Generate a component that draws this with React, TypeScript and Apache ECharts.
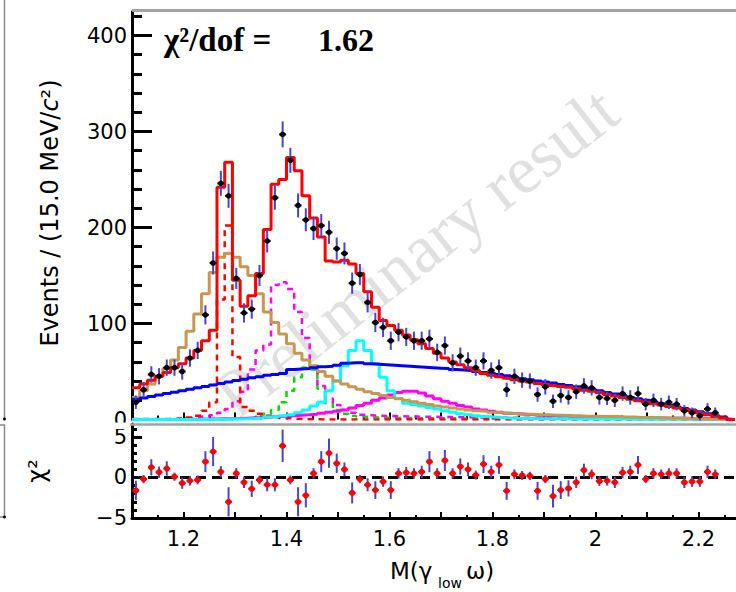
import { useEffect, useRef } from "react";
import * as echarts from "echarts";

// ---------------- data ----------------
const BIN_START = 1.1;
const BIN_WIDTH = 0.015; // 15.0 MeV/c^2
const X_MIN = 1.1;
const X_MAX = 2.2728;

const xMajorTicks = [1.1, 1.2, 1.3, 1.4, 1.5, 1.6, 1.7, 1.8, 1.9, 2.0, 2.1, 2.2];
const xMinorTicks = [1.15, 1.25, 1.35, 1.45, 1.55, 1.65, 1.75, 1.85, 1.95, 2.05, 2.15, 2.25];
const xTickLabels = [1.2, 1.4, 1.6, 1.8, 2.0, 2.2];
const yTopTicks = [0, 100, 200, 300, 400];
const yTopMinorTicks = [20, 40, 60, 80, 120, 140, 160, 180, 220, 240, 260, 280, 320, 340, 360, 380, 420];
const yBotTicks = [-5, 0, 5];
const yBotMinorTicks = [-4, -3, -2, -1, 1, 2, 3, 4, 6];

const dataCounts = [
  18, 31, 47, 45, 54, 54, 50, 64, 72, 109,
  163, 246, 233, 147, 111, 115, 150, 186, 231, 297,
  270, 223, 208, 199, 202, 195, 178, 173, 142, 151,
  122, 101, 96, 82, 91, 86, 82, 82, 84, 70,
  77, 59, 66, 61, 54, 61, 51, 54, 31, 45,
  41, 40, 26, 34, 19, 25, 23, 29, 35, 33,
  23, 22, 20, 27, 23, 27, 16, 20, 16, 18,
  16, 9, 7, 4, 11, 7,
];
const dataErrors = [
  7, 8, 8.5, 8.5, 8.5, 8.5, 8.5, 9, 9, 10,
  12, 13, 12.5, 11, 10, 10, 11, 12, 12.5, 13.5,
  13, 12.5, 12, 12, 12, 12, 11.5, 11.5, 11, 11,
  10.5, 10, 10, 9.5, 9.5, 9.5, 9.5, 9.5, 9.5, 9,
  9.5, 9, 9, 9, 8.5, 9, 8.5, 8.5, 7.5, 8,
  8, 8, 7.5, 8, 7, 7.5, 7.5, 7.5, 8, 8,
  7.5, 7, 7, 7.5, 7.5, 7.5, 6.5, 7, 6.5, 7,
  6.5, 6, 5.5, 5, 6, 5.5,
];
const totalFit = [
  33, 37, 41, 45, 49, 54, 58, 64, 72, 82,
  93, 242, 268, 145, 118, 129, 152, 198, 245, 250,
  273, 259, 233, 210, 190, 165, 164, 166, 162, 152,
  133, 117, 103, 98, 93, 88, 83, 79, 74, 69,
  64, 60, 57, 54, 51, 48, 46, 44.5, 43, 41.5,
  40, 39, 37.5, 36.5, 35.5, 34.5, 33.5, 32, 30.5, 29.5,
  28, 26, 24.5, 23, 21, 19.5, 18, 16.5, 15, 13.5,
  12, 10.5, 9, 7, 5, 3, 1.5, 0,
];
const tanComp = [
  23, 30, 37, 45, 53, 62, 75, 92, 110, 131,
  153, 169, 173, 169, 159, 150, 131, 112, 101, 89,
  79, 69, 62, 56, 50, 45, 40, 37, 34, 31.5,
  29, 27, 25, 23, 21.5, 20, 18.5, 17, 15.5, 14,
  13, 12, 11, 10, 9, 8.5, 7.5, 7, 6.5, 6,
  5.5, 5.5, 5, 5, 4.5, 4.5, 4, 4, 3.5, 3.5,
  3, 3, 3, 2.5, 2.5, 2, 2, 2, 1.5, 1.5,
  1.5, 1, 1, 0.5, 0.5, 0.5, 0.3, 0,
];
const blueComp = [
  21, 22.5, 24, 25.5, 27, 28.5, 30, 31.5, 33, 34.5,
  36, 37.5, 39, 40.5, 42, 43.5, 44.5, 46, 47, 48,
  52, 52.5, 53, 54, 55, 55.5, 56.5, 58.5, 59, 59,
  58, 57.5, 57, 56.5, 56, 55.5, 55, 54.5, 54, 53.5,
  53, 52, 51.5, 51, 50, 49, 48, 47, 45.5, 44,
  42.5, 41.5, 40, 39, 38, 36.5, 35.5, 34, 33, 31.5,
  30, 28, 26.5, 25, 23, 21.5, 20, 18.5, 16.5, 15,
  13, 11.5, 10, 8, 6, 4, 2.5, 0,
];
const cyanComp = [
  0, 0, 0, 0, 0, 0, 0, 0, 0, 0,
  0.2, 0.3, 0.4, 0.5, 0.7, 1, 1.5, 2.5, 3, 4,
  5, 7, 10, 14, 18, 30, 40, 56, 72, 82,
  72, 58, 44, 30, 22, 17, 15.5, 14, 12.5, 11,
  9, 7.5, 6, 5, 4, 3, 2.5, 2, 1.6, 1.3,
  1.1, 1, 0.9, 0.8, 0.7, 0.7, 0.6, 0.6, 0.5, 0.5,
  0.5, 0.4, 0.4, 0.4, 0.3, 0.3, 0.3, 0.3, 0.2, 0.2,
  0.2, 0.2, 0.2, 0.1, 0.1, 0.1, 0.1, 0,
];
const magentaComp = [
  0, 0, 0, 0, 0, 0, 0.1, 0.2, 0.3, 0.4,
  0.5, 0.7, 0.9, 1.1, 1.4, 1.7, 2, 2.5, 3, 3.5,
  4, 4.5, 5, 5.5, 6.5, 7.5, 8.5, 10, 12, 14.5,
  17, 20, 22.5, 25.5, 28, 29.5, 29.5, 27.5, 24.5, 21.5,
  19, 17, 14.5, 13, 11, 10, 8.5, 7.5, 6.5, 6,
  5.5, 5, 4.5, 4.2, 4, 3.7, 3.5, 3.2, 3, 2.8,
  2.6, 2.4, 2.2, 2, 1.9, 1.8, 1.7, 1.6, 1.5, 1.4,
  1.3, 1.2, 1.1, 1, 0.9, 0.8, 0.7, 0,
];
const redDashed = [
  0, 0, 0, 0, 0, 0.5, 1, 2, 4, 9,
  18, 125, 202, 65, 13, 9, 6, 4, 2.5, 1.5,
  1, 0.5, 0.3, 0.2, 0.1, 0, 0, 0, 0, 0,
  0, 0, 0, 0, 0, 0, 0, 0, 0, 0,
  0, 0, 0, 0, 0, 0, 0, 0, 0, 0,
  0, 0, 0, 0, 0, 0, 0, 0, 0, 0,
  0, 0, 0, 0, 0, 0, 0, 0, 0, 0,
  0, 0, 0, 0, 0, 0, 0, 0,
];
const magentaDashed = [
  0.5, 0.5, 0.5, 0.5, 0.7, 1, 1.3, 1.7, 2.2, 3,
  4.5, 7, 11, 19, 29, 52, 72, 78, 140, 143,
  136, 112, 85, 55, 35, 22, 15, 10, 7, 5,
  4.5, 4, 3.7, 3.5, 3.3, 3.1, 3, 2.9, 2.8, 2.7,
  2.6, 2.5, 2.4, 2.3, 2.2, 2.1, 2, 2, 1.9, 1.9,
  1.8, 1.8, 1.7, 1.7, 1.6, 1.6, 1.5, 1.5, 1.4, 1.4,
  1.3, 1.3, 1.2, 1.2, 1.1, 1.1, 1, 1, 0.9, 0.9,
  0.8, 0.8, 0.7, 0.7, 0.6, 0.6, 0.5, 0,
];
const greenDashed = [
  0.3, 0.3, 0.3, 0.3, 0.3, 0.3, 0.3, 0.3, 0.4, 0.4,
  0.5, 0.5, 0.6, 0.7, 0.8, 1, 3, 6, 10, 18,
  30, 44, 54, 52, 32, 17, 10, 6, 4, 3,
  2.5, 2, 1.8, 1.6, 1.5, 1.5, 1.4, 1.4, 1.3, 1.3,
  1.2, 1.2, 1.1, 1.1, 1, 1, 1, 0.9, 0.9, 0.9,
  0.8, 0.8, 0.8, 0.7, 0.7, 0.7, 0.6, 0.6, 0.6, 0.5,
  0.5, 0.5, 0.5, 0.4, 0.4, 0.4, 0.4, 0.3, 0.3, 0.3,
  0.3, 0.3, 0.2, 0.2, 0.2, 0.2, 0.2, 0,
];
const chiValues = [
  -1.6, -0.2, 1.25, 0.65, 1.1, 0.1, -0.7, -0.4, -0.3, 1.95,
  3.2, 0.7, -3.0, 0.5, -0.6, -1.4, -0.3, -0.9, -0.9, 3.9,
  -0.3, -3.0, -2.2, 0.5, 1.95, 3.0, 1.75, 1.0, -1.9, -0.2,
  -0.9, -1.55, -0.5, -1.55, 0.5, 0.6, 0.5, 0.7, 1.95, 0.5,
  2.1, 0.5, 1.35, 1.0, 0.3, 1.65, 0.7, 1.55, -1.65, 0.4,
  0.25, 0.2, -1.65, -0.2, -2.3, -1.55, -1.35, -0.6, 0.9, 0.4,
  -0.45, -0.4, -0.6, 0.6, 0.7, 1.55, -0.2, 0.5, 0.4, 0.5,
  0.5, -0.6, -0.5, -0.5, 0.7, 0.4,
];
const chiErrors = [
  1.2, 0.5, 1.0, 0.7, 0.9, 0.5, 0.7, 0.6, 0.55, 1.3,
  1.8, 0.7, 1.8, 0.65, 0.7, 1.0, 0.55, 0.8, 0.8, 2.0,
  0.55, 1.8, 1.5, 0.65, 1.3, 1.8, 1.2, 0.85, 1.3, 0.5,
  0.8, 1.1, 0.65, 1.1, 0.65, 0.7, 0.65, 0.75, 1.3, 0.65,
  1.3, 0.65, 1.0, 0.85, 0.55, 1.1, 0.75, 1.1, 1.1, 0.6,
  0.55, 0.5, 1.1, 0.5, 1.4, 1.1, 1.0, 0.7, 0.8, 0.6,
  0.6, 0.6, 0.7, 0.7, 0.75, 1.1, 0.5, 0.65, 0.6, 0.65,
  0.65, 0.7, 0.65, 0.65, 0.75, 0.6,
];

// ---------------- helpers ----------------
const SANS = "DejaVu Sans";
const SERIF = "Liberation Serif";

function histData(vals: number[]) {
  const d = vals.map((v, i) => [BIN_START + i * BIN_WIDTH, v]);
  d.push([BIN_START + vals.length * BIN_WIDTH, vals[vals.length - 1]]);
  return d;
}

function pointData(vals: number[], errs: number[]) {
  return vals.map((v, i) => [BIN_START + (i + 0.5) * BIN_WIDTH, v, errs[i]]);
}

function stepSeries(vals: number[], color: string, width: number, dashed: boolean) {
  return {
    type: "line",
    xAxisIndex: 0,
    yAxisIndex: 0,
    data: histData(vals),
    step: "end",
    symbol: "none",
    silent: true,
    lineStyle: { color, width, type: dashed ? [6, 5] : "solid" },
  };
}

function errRender(barColor: string, markColor: string, r: number) {
  return (_params: any, api: any) => {
    const x = api.value(0);
    const y = api.value(1);
    const e = api.value(2);
    const c = api.coord([x, y]);
    const hi = api.coord([x, y + e]);
    const lo = api.coord([x, y - e]);
    return {
      type: "group",
      children: [
        { type: "line", shape: { x1: c[0], y1: hi[1], x2: c[0], y2: lo[1] }, style: { stroke: barColor, lineWidth: 2 } },
        { type: "line", shape: { x1: c[0] - 3.5, y1: c[1], x2: c[0] + 3.5, y2: c[1] }, style: { stroke: markColor, lineWidth: 2 } },
        { type: "circle", shape: { cx: c[0], cy: c[1], r }, style: { fill: markColor } },
      ],
    };
  };
}

const tickStyle = { color: "#000", width: 2 };

function xAxisDef(grid: number, ticks: number[], len: number, main: boolean, labels: boolean, line: boolean) {
  return {
    type: "value",
    gridIndex: grid,
    position: "bottom",
    min: X_MIN,
    max: X_MAX,
    interval: main ? 0.1 : 0.05,
    axisLine: { show: line, onZero: false, lineStyle: { color: "#000", width: 3 } },
    axisTick: { show: true, inside: true, length: len, customValues: ticks, lineStyle: tickStyle },
    axisLabel: labels
      ? {
          show: true,
          customValues: xTickLabels,
          margin: 12,
          lineHeight: 17,
          color: "#000",
          fontFamily: SANS,
          fontSize: 21,
          formatter: (v: number) => String(Math.round(v * 10) / 10),
        }
      : { show: false },
    splitLine: { show: false },
  };
}

function yAxisDef(grid: number, min: number, max: number, interval: number, ticks: number[], len: number, labels: number[] | null, line: boolean) {
  return {
    type: "value",
    gridIndex: grid,
    position: "left",
    min,
    max,
    interval,
    axisLine: { show: line, onZero: false, lineStyle: { color: "#000", width: 3 } },
    axisTick: { show: true, inside: true, length: len, customValues: ticks, lineStyle: { color: "#000", width: 3 } },
    axisLabel: labels
      ? {
          show: true,
          customValues: labels,
          margin: 5,
          lineHeight: 15,
          color: "#000",
          fontFamily: SANS,
          fontSize: 21,
          formatter: (v: number) => (v < 0 ? "\u2212" + Math.abs(v) : String(v)),
        }
      : { show: false },
    splitLine: { show: false },
  };
}

// ---------------- component ----------------
export default function App() {
  const ref = useRef<HTMLDivElement>(null);

  useEffect(() => {
    document.body.style.margin = "0";
    const chart = echarts.init(ref.current as HTMLDivElement, undefined, { renderer: "svg" });

    const option: any = {
      animation: false,
      backgroundColor: "#ffffff",
      grid: [
        { left: 132, top: 11.5, width: 604, height: 408, outerBoundsMode: "none" },
        { left: 132, top: 424, width: 604, height: 94, outerBoundsMode: "none" },
      ],
      xAxis: [
        xAxisDef(0, xMajorTicks, 7, true, false, false),
        xAxisDef(0, xMinorTicks, 4, false, false, false),
        xAxisDef(1, xMajorTicks, 6, true, true, true),
        xAxisDef(1, xMinorTicks, 3, false, false, false),
      ],
      yAxis: [
        yAxisDef(0, 0, 425, 100, yTopTicks, 20, yTopTicks, true),
        yAxisDef(0, 0, 425, 20, yTopMinorTicks, 10, null, false),
        yAxisDef(1, -5, 6.6, 5, yBotTicks, 10, yBotTicks, true),
        yAxisDef(1, -5, 6.6, 1, yBotMinorTicks, 5, null, false),
      ],
      series: [
        stepSeries(greenDashed, "#00e000", 2.5, true),
        stepSeries(magentaDashed, "#ff00ff", 2.5, true),
        stepSeries(redDashed, "#ff0000", 2.5, true),
        stepSeries(magentaComp, "#ff00ff", 3, false),
        stepSeries(cyanComp, "#00ffff", 3, false),
        stepSeries(tanComp, "#c8964f", 3, false),
        stepSeries(blueComp, "#0000ff", 3, false),
        stepSeries(totalFit, "#ff0000", 3, false),
        {
          type: "custom",
          xAxisIndex: 0,
          yAxisIndex: 0,
          data: pointData(dataCounts, dataErrors),
          encode: { x: 0, y: 1 },
          renderItem: errRender("#4646d2", "#000000", 2.8),
          silent: true,
          z: 5,
        },
        {
          type: "line",
          xAxisIndex: 2,
          yAxisIndex: 2,
          data: [
            [X_MIN, 0],
            [X_MAX, 0],
          ],
          symbol: "none",
          silent: true,
          lineStyle: { color: "#000", width: 3, type: [10, 6] },
        },
        {
          type: "custom",
          xAxisIndex: 2,
          yAxisIndex: 2,
          data: pointData(chiValues, chiErrors),
          encode: { x: 0, y: 1 },
          renderItem: errRender("#4646d2", "#ff0000", 3),
          silent: true,
          z: 5,
        },
      ],
      graphic: [
        {
          type: "text",
          x: 416,
          y: 252,
          rotation: (38 * Math.PI) / 180,
          z: -1,
          silent: true,
          style: {
            text: "Preliminary result",
            fontFamily: SERIF,
            fontSize: 68,
            fill: "#e0e0e0",
            align: "center",
            verticalAlign: "middle",
          },
        },
        // frames
        { type: "line", silent: true, z: 20, shape: { x1: 132, y1: 10.5, x2: 736, y2: 10.5 }, style: { stroke: "#a3a3a3", lineWidth: 3 } },
        { type: "rect", silent: true, z: 20, shape: { x: 60, y: 422.5, width: 71, height: 6.5 }, style: { fill: "#ffffff" } },
        { type: "line", silent: true, z: 21, shape: { x1: 130, y1: 424.5, x2: 736, y2: 424.5 }, style: { stroke: "#a3a3a3", lineWidth: 2.5 } },
        // cropped neighbour frames on the far left
        { type: "line", silent: true, shape: { x1: 4.5, y1: 0, x2: 4.5, y2: 419 }, style: { stroke: "#888", lineWidth: 1.5 } },
        { type: "circle", silent: true, shape: { cx: 4.5, cy: 419, r: 1.5 }, style: { fill: "#000" } },
        { type: "polyline", silent: true, shape: { points: [[0, 425], [4.5, 425], [4.5, 517], [0, 517]] }, style: { stroke: "#888", lineWidth: 1.5, fill: null } },
        { type: "circle", silent: true, shape: { cx: 4.5, cy: 517, r: 1.5 }, style: { fill: "#000" } },
        // titles
        {
          type: "text",
          x: 164,
          y: 40,
          silent: true,
          style: { text: "\u03c7\u00b2/dof =", fontFamily: SERIF, fontWeight: "bold", fontSize: 33, fill: "#000", align: "left", verticalAlign: "middle" },
        },
        {
          type: "text",
          x: 318,
          y: 40,
          silent: true,
          style: { text: "1.62", fontFamily: SERIF, fontWeight: "bold", fontSize: 32, fill: "#000", align: "left", verticalAlign: "middle" },
        },
        {
          type: "text",
          x: 50,
          y: 213,
          rotation: Math.PI / 2,
          silent: true,
          style: {
            text: "{a|Events / (15.0 MeV/}{i|c}{a|\u00b2)}",
            rich: {
              a: { fontFamily: SANS, fontSize: 24, fill: "#000" },
              i: { fontFamily: SANS, fontSize: 24, fontStyle: "italic", fill: "#000" },
            },
            align: "center",
            verticalAlign: "middle",
          },
        },
        {
          type: "text",
          x: 37,
          y: 471,
          rotation: Math.PI / 2,
          silent: true,
          style: { text: "\u03c7\u00b2", fontFamily: SANS, fontSize: 24, fill: "#000", align: "center", verticalAlign: "middle" },
        },
        {
          type: "text",
          x: 390,
          y: 571,
          silent: true,
          style: { text: "M(\u03b3", fontFamily: SANS, fontSize: 23, fill: "#000", align: "left", verticalAlign: "middle" },
        },
        {
          type: "text",
          x: 438,
          y: 583,
          silent: true,
          style: { text: "low", fontFamily: SANS, fontSize: 14, fill: "#000", align: "left", verticalAlign: "middle" },
        },
        {
          type: "text",
          x: 466,
          y: 571,
          silent: true,
          style: { text: "\u03c9)", fontFamily: SANS, fontSize: 23, fill: "#000", align: "left", verticalAlign: "middle" },
        },
      ],
    };

    chart.setOption(option);
    return () => chart.dispose();
  }, []);

  return <div ref={ref} style={{ width: 736, height: 592, background: "#fff" }} />;
}
